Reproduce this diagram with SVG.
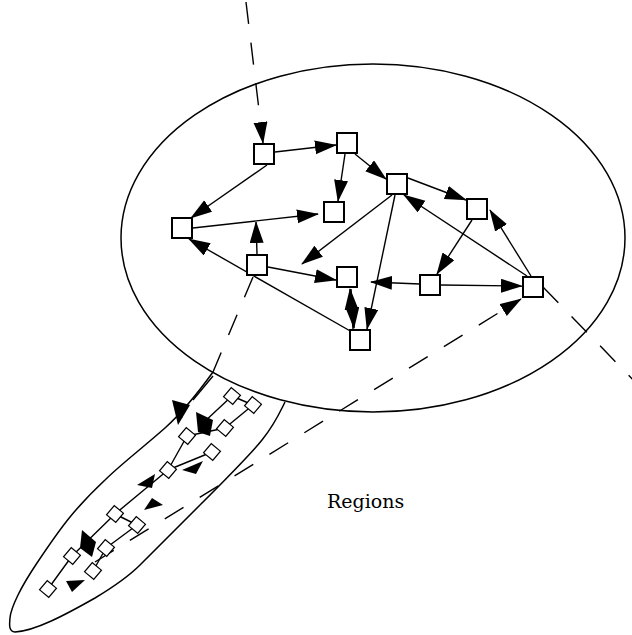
<svg xmlns="http://www.w3.org/2000/svg" width="632" height="635" viewBox="0 0 632 635">
<defs>
<marker id="ah" markerUnits="userSpaceOnUse" markerWidth="24" markerHeight="16" refX="21" refY="7" orient="auto">
<path d="M0,0 L22,7 L0,14 z" fill="#000"/>
</marker>
<style>
.node rect{fill:#fff;stroke:#000;stroke-width:2}
.sn rect{fill:#fff;stroke:#000;stroke-width:1.2}
.e{stroke:#000;stroke-width:1.4;fill:none}
.d{stroke:#000;stroke-width:1.4;fill:none;stroke-dasharray:22 19}
.reg{fill:none;stroke:#000;stroke-width:1.5}
</style>
</defs>
<rect width="632" height="635" fill="#fff"/>
<g id="region-small">
<path class="reg" d="M213,372 C200,390 185,410 165,428 C140,450 120,465 105,480 C89.2,494.8 81.3,503.2 70,517 C58.7,530.8 45.7,550 37,563 C28.3,576 22.5,585.8 18,595 C13.5,604.2 10.5,611.8 10,618 C9.5,624.2 8.3,631.3 15,632 C35,631 65,615 95,598 C115,586 128,577 140,565 L200,505 C225,480 250,455 262,440 C275,424 280,412 285,402"/>
</g>
<g id="region-large">
<ellipse class="reg" cx="373" cy="238" rx="252" ry="174" fill="#fff"/>
</g>
<g id="connectors">
<line class="e" x1="275" y1="152" x2="336" y2="145" marker-end="url(#ah)"/>
<line class="e" x1="345" y1="154" x2="338" y2="201" marker-end="url(#ah)"/>
<line class="e" x1="355" y1="154" x2="386" y2="179" marker-end="url(#ah)"/>
<line class="e" x1="408" y1="178" x2="466" y2="200" marker-end="url(#ah)"/>
<line class="e" x1="267" y1="165" x2="191" y2="218" marker-end="url(#ah)"/>
<line class="e" x1="193" y1="228" x2="318" y2="214" marker-end="url(#ah)"/>
<line class="e" x1="257" y1="254" x2="256" y2="222" marker-end="url(#ah)"/>
<line class="e" x1="352" y1="332" x2="189" y2="239" marker-end="url(#ah)"/>
<line class="e" x1="268" y1="267" x2="336" y2="280" marker-end="url(#ah)"/>
<line class="e" x1="392" y1="195" x2="302" y2="264" marker-end="url(#ah)"/>
<line class="e" x1="395" y1="195" x2="367" y2="329" marker-end="url(#ah)"/>
<line class="e" x1="420" y1="284" x2="371" y2="282" marker-end="url(#ah)"/>
<line class="e" x1="441" y1="285" x2="522" y2="286" marker-end="url(#ah)"/>
<line class="e" x1="472" y1="220" x2="437" y2="274" marker-end="url(#ah)"/>
<line class="e" x1="527" y1="276" x2="404" y2="195" marker-end="url(#ah)"/>
<line class="e" x1="531" y1="276" x2="490" y2="210" marker-end="url(#ah)"/>
<line class="e" x1="353" y1="329" x2="350" y2="289" marker-end="url(#ah)"/>
<line class="e" x1="351" y1="289" x2="354" y2="328" marker-end="url(#ah)"/>
<line class="d" x1="246" y1="2" x2="263" y2="143" marker-end="url(#ah)"/>
<line class="d" x1="253" y1="277" x2="213" y2="372"/>
<line class="d" x1="95" y1="562" x2="521" y2="299" marker-end="url(#ah)"/>
<line class="d" x1="543" y1="287" x2="640" y2="387"/>
<path class="e" d="M213,376 L193,400 M232,396 L253,405 M232,396 L203,423 M253,405 L225,428 M225,428 L187,436 M187,436 L168,470 M212,452 L168,470 M168,470 L115,514 M115,514 L137,525 M137,525 L106,548 M115,514 L72,556 M72,556 L48,589 M106,548 L93,571"/>
<path class="e" d="M182,418 L178,410 M205,432 L200,420"/>
<polygon points="172,400 190,405 178,425" fill="#000"/>
<polygon points="196,412 213,420 210,436 198,432" fill="#000"/>
<polygon points="182,470 203,461 196,474" fill="#000"/>
<polygon points="137,485 155,474 152,488" fill="#000"/>
<polygon points="144,510 163,505 152,498" fill="#000"/>
<polygon points="82,530 96,542 92,557 80,548" fill="#000"/>
<polygon points="66,581 85,580 72,592" fill="#000"/>
</g>
<g id="n-A" class="node"><rect x="254" y="144" width="20" height="20"/></g>
<g id="n-B" class="node"><rect x="337" y="133" width="20" height="20"/></g>
<g id="n-C" class="node"><rect x="324" y="202" width="20" height="20"/></g>
<g id="n-D" class="node"><rect x="387" y="174" width="20" height="20"/></g>
<g id="n-E" class="node"><rect x="467" y="199" width="20" height="20"/></g>
<g id="n-F" class="node"><rect x="172" y="218" width="20" height="20"/></g>
<g id="n-G" class="node"><rect x="247" y="255" width="20" height="20"/></g>
<g id="n-H" class="node"><rect x="337" y="267" width="20" height="20"/></g>
<g id="n-I" class="node"><rect x="420" y="275" width="20" height="20"/></g>
<g id="n-J" class="node"><rect x="523" y="277" width="20" height="20"/></g>
<g id="n-K" class="node"><rect x="350" y="330" width="20" height="20"/></g>
<g id="small-nodes" class="sn">
<rect x="-6" y="-6" width="12" height="12" transform="translate(232,396) rotate(40)"/>
<rect x="-6" y="-6" width="12" height="12" transform="translate(253,405) rotate(40)"/>
<rect x="-6" y="-6" width="12" height="12" transform="translate(225,428) rotate(40)"/>
<rect x="-6" y="-6" width="12" height="12" transform="translate(187,436) rotate(40)"/>
<rect x="-6" y="-6" width="12" height="12" transform="translate(212,452) rotate(40)"/>
<rect x="-6" y="-6" width="12" height="12" transform="translate(168,470) rotate(40)"/>
<rect x="-6" y="-6" width="12" height="12" transform="translate(115,514) rotate(40)"/>
<rect x="-6" y="-6" width="12" height="12" transform="translate(137,525) rotate(40)"/>
<rect x="-6" y="-6" width="12" height="12" transform="translate(106,548) rotate(40)"/>
<rect x="-6" y="-6" width="12" height="12" transform="translate(72,556) rotate(40)"/>
<rect x="-6" y="-6" width="12" height="12" transform="translate(93,571) rotate(40)"/>
<rect x="-6" y="-6" width="12" height="12" transform="translate(48,589) rotate(40)"/>
</g>
<text x="327" y="508" font-family="DejaVu Serif, serif" font-size="19">Regions</text>
</svg>
